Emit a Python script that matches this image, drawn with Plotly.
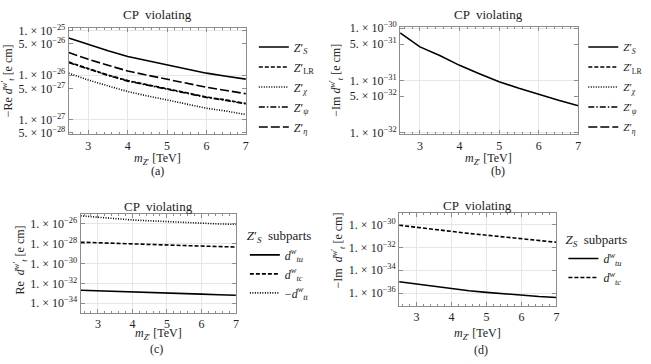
import plotly.graph_objects as go

# m_Z' values (TeV)
mz = [2.5, 3.0, 3.5, 4.0, 4.5, 5.0, 5.5, 6.0, 6.5, 7.0]

# (a) -Re d^w'_t  [e cm]
re_S = [6.8e-26, 4.8e-26, 3.5e-26, 2.6e-26, 2.1e-26, 1.7e-26, 1.4e-26, 1.1e-26, 9.4e-27, 8.1e-27]
re_LR = [1.95e-26, 1.37e-26, 1.0e-26, 7.5e-27, 6.0e-27, 4.9e-27, 4.0e-27, 3.2e-27, 2.75e-27, 2.3e-27]
re_chi = [1.1e-26, 7.7e-27, 5.7e-27, 4.25e-27, 3.4e-27, 2.75e-27, 2.25e-27, 1.8e-27, 1.55e-27, 1.3e-27]
re_psi = [1.9e-26, 1.34e-26, 9.8e-27, 7.3e-27, 5.9e-27, 4.8e-27, 3.9e-27, 3.15e-27, 2.7e-27, 2.25e-27]
re_eta = [3.2e-26, 2.25e-26, 1.65e-26, 1.23e-26, 9.9e-27, 8.0e-27, 6.6e-27, 5.3e-27, 4.5e-27, 3.8e-27]

# (b) -Im d^w'_t  [e cm]
im_S = [8.2e-31, 4.4e-31, 3.0e-31, 1.95e-31, 1.35e-31, 9.5e-32, 7.1e-32, 5.4e-32, 4.2e-32, 3.3e-32]

# (c) Z'_S subparts, Re
re_tu = [2.0e-33, 1.72e-33, 1.5e-33, 1.32e-33, 1.17e-33, 1.04e-33, 9.3e-34, 8.2e-34, 7.2e-34, 6.3e-34]
re_tc = [1.4e-28, 1.2e-28, 1.05e-28, 9.2e-29, 8.1e-29, 7.2e-29, 6.4e-29, 5.7e-29, 5.1e-29, 4.6e-29]
re_tt = [6.3e-26, 4.4e-26, 3.3e-26, 2.4e-26, 2.0e-26, 1.6e-26, 1.3e-26, 1.1e-26, 9.6e-27, 8.7e-27]

# (d) Z_S subparts, -Im
im_tu = [9.8e-36, 6.0e-36, 3.9e-36, 2.4e-36, 1.6e-36, 1.15e-36, 8.5e-37, 6.3e-37, 5.0e-37, 4.1e-37]
im_tc = [8.7e-31, 5.6e-31, 3.5e-31, 2.4e-31, 1.66e-31, 1.17e-31, 8.1e-32, 5.8e-32, 4.0e-32, 2.8e-32]

names_a = ["<i>Z</i>′<sub><i>S</i></sub>", "<i>Z</i>′<sub>LR</sub>", "<i>Z</i>′<sub><i>χ</i></sub>",
           "<i>Z</i>′<sub><i>ψ</i></sub>", "<i>Z</i>′<sub><i>η</i></sub>"]
dashes_a = ["solid", "4px,2px", "1px,1.5px", "6px,2px,1.5px,2px", "9px,3px"]

W, H = 651, 364
FONT = "Liberation Serif, Times New Roman, serif"
FRAME = "#8c8c8c"


def px_x(a, b):
    return [a / W, b / W]


def px_y(top, bot):
    return [1 - bot / H, 1 - top / H]


def sci(v):
    m, e = f"{v:.0e}".split("e")
    return f"{int(m)}. × 10<sup>−{abs(int(e))}</sup>"


def xax(dom, anchor):
    return dict(domain=dom, anchor=anchor, range=[2.5, 7], tickvals=[3, 4, 5, 6, 7],
                showline=True, linecolor=FRAME, mirror="ticks", ticks="inside", ticklen=4,
                tickcolor=FRAME, showgrid=True, gridcolor="#e6e6e6", zeroline=False,
                tickfont=dict(size=12, color="#222"),
                minor=dict(dtick=0.2, tick0=3, ticks="inside", ticklen=2, tickcolor=FRAME, showgrid=False))


def yax(dom, anchor, rng, tv, grid_vals):
    return dict(domain=dom, anchor=anchor, type="log", range=rng, tickvals=tv,
                ticktext=[sci(v) for v in tv], showline=True, linecolor=FRAME, mirror="ticks",
                ticks="inside", ticklen=4, tickcolor=FRAME, showgrid=False, zeroline=False,
                tickfont=dict(size=12, color="#222"),
                minor=dict(tickmode="array", tickvals=grid_vals, ticks="", showgrid=True,
                           gridcolor="#e6e6e6"))


fig = go.Figure()

# (a)
for i, (ys, nm, dsh) in enumerate(zip([re_S, re_LR, re_chi, re_psi, re_eta], names_a, dashes_a)):
    fig.add_trace(go.Scatter(x=mz, y=ys, mode="lines", name=nm, legend="legend",
                             legendgroup=f"a{i}", xaxis="x", yaxis="y",
                             line=dict(color="black", width=1.6, dash=dsh)))
# (b)
for i, (nm, dsh) in enumerate(zip(names_a, dashes_a)):
    ys = im_S if i == 0 else [None] * len(mz)
    fig.add_trace(go.Scatter(x=mz, y=ys, mode="lines", name=nm, legend="legend2",
                             legendgroup=f"b{i}", xaxis="x2", yaxis="y2",
                             line=dict(color="black", width=1.6, dash=dsh)))
# (c)
for ys, nm, dsh in zip([re_tu, re_tc, re_tt],
                       ["<i>d</i><sup><i>w</i></sup><sub><i>tu</i></sub>",
                        "<i>d</i><sup><i>w</i></sup><sub><i>tc</i></sub>",
                        "−<i>d</i><sup><i>w</i></sup><sub><i>tt</i></sub>"],
                       ["solid", "4px,2px", "1px,1.5px"]):
    fig.add_trace(go.Scatter(x=mz, y=ys, mode="lines", name=nm, legend="legend3",
                             xaxis="x3", yaxis="y3",
                             line=dict(color="black", width=1.6, dash=dsh)))
# (d)
for ys, nm, dsh in zip([im_tu, im_tc],
                       ["<i>d</i><sup><i>w</i></sup><sub><i>tu</i></sub>",
                        "<i>d</i><sup><i>w</i></sup><sub><i>tc</i></sub>"],
                       ["solid", "4px,2px"]):
    fig.add_trace(go.Scatter(x=mz, y=ys, mode="lines", name=nm, legend="legend4",
                             xaxis="x4", yaxis="y4",
                             line=dict(color="black", width=1.6, dash=dsh)))

leg = dict(font=dict(family=FONT, size=12, color="#222"), bgcolor="rgba(0,0,0,0)",
           tracegroupgap=1, itemwidth=30, yanchor="middle", xanchor="left")

annots = []


def ann(x, y, text, size=12, angle=0):
    annots.append(dict(x=x / W, y=1 - y / H, xref="paper", yref="paper", text=text,
                       showarrow=False, textangle=angle, font=dict(family=FONT, size=size, color="#222"),
                       xanchor="center", yanchor="middle"))


mlab = "<i>m</i><sub><i>Z</i>′</sub> [TeV]"
dlab = "<i>d</i><sup><i>w</i>′</sup><sub><i>t</i></sub> [e cm]"
ann(158, 8, "CP  violating", 13)
ann(158, 158, mlab, 12)
ann(158, 170, "(a)", 12)
ann(491, 8, "CP  violating", 13)
ann(491, 158, mlab, 12)
ann(500, 170, "(b)", 12)
ann(159, 207, "CP  violating", 13)
ann(159, 339, mlab, 12)
ann(157, 355, "(c)", 12)
ann(480, 206, "CP  violating", 13)
ann(480, 339, mlab, 12)
ann(483, 356, "(d)", 12)
ann(8, 76, "−Re " + dlab, 12, -90)
ann(338, 76, "−Im " + dlab, 12, -90)
ann(21, 262, "Re  " + dlab, 12, -90)
ann(340, 252, "−Im  " + dlab, 12, -90)

fig.update_layout(
    width=W, height=H, margin=dict(l=0, r=0, t=0, b=0),
    plot_bgcolor="white", paper_bgcolor="white",
    font=dict(family=FONT, size=12, color="#222"),
    xaxis=xax(px_x(69, 247), "y"),
    yaxis=yax(px_y(22, 132), "x", [-27.33, -24.95],
              [1e-25, 5e-26, 1e-26, 5e-27, 1e-27, 5e-28], [1e-25, 1e-26, 1e-27]),
    xaxis2=xax(px_x(402, 581), "y2"),
    yaxis2=yax(px_y(21, 132), "x2", [-32.03, -29.98],
               [1e-30, 5e-31, 1e-31, 5e-32, 1e-32], [1e-30, 1e-31, 1e-32]),
    xaxis3=xax(px_x(81, 237), "y3"),
    yaxis3=yax(px_y(215, 317), "x3", [-34.95, -25.05],
               [1e-26, 1e-28, 1e-30, 1e-32, 1e-34], [1e-26, 1e-28, 1e-30, 1e-32, 1e-34]),
    xaxis4=xax(px_x(401, 559), "y4"),
    yaxis4=yax(px_y(214, 310), "x4", [-37.13, -29.02],
               [1e-30, 1e-32, 1e-34, 1e-36], [1e-30, 1e-32, 1e-34, 1e-36]),
    legend=dict(leg, x=255 / W, y=1 - 83 / H),
    legend2=dict(leg, x=586 / W, y=1 - 83 / H, font=dict(family=FONT, size=11, color="#222")),
    legend3=dict(leg, x=246 / W, y=1 - 268 / H,
                 title=dict(text="<i>Z</i>′<sub><i>S</i></sub>  subparts", side="top",
                            font=dict(family=FONT, size=13))),
    legend4=dict(leg, x=566 / W, y=1 - 262 / H,
                 title=dict(text="<i>Z</i><sub><i>S</i></sub>  subparts", side="top",
                            font=dict(family=FONT, size=13))),
    annotations=annots,
)

fig.write_html("out.html", config={"displayModeBar": False},
               post_script="document.body.style.margin='0';")
